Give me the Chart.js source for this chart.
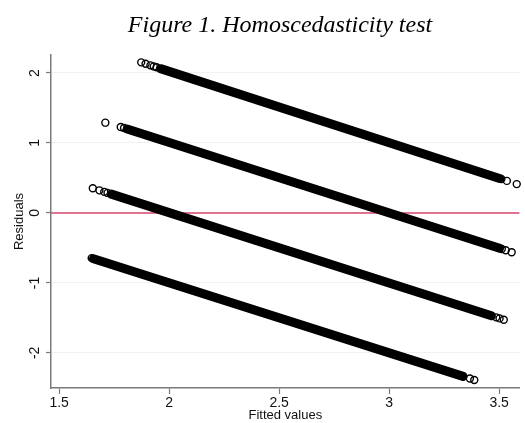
<!DOCTYPE html>
<html>
<head>
<meta charset="utf-8">
<script src="https://cdn.jsdelivr.net/npm/chart.js@4/dist/chart.umd.min.js"></script>
<style>
  body { margin: 0; background: #fff; }
  #wrap { position: relative; width: 525px; height: 423px; }
  #title {
    position: absolute; top: 12px; left: 0; width: 560px;
    text-align: center; font-family: "Liberation Serif", "Times New Roman", serif;
    font-style: italic; font-size: 24px; line-height: 24px; color: #000;
  }
</style>
</head>
<body>
<div id="wrap">
  <div id="title">Figure 1. Homoscedasticity test</div>
  <canvas id="chart" width="525" height="423"></canvas>
</div>
<script>
// axis ticks
const xTicks = [1.5, 2, 2.5, 3, 3.5];
const yTicks = [-2, -1, 0, 1, 2];

// band 1 (top stripe)
const band1LeftFitted = [1.873, 1.893, 1.915, 1.930, 1.943];
const band1LeftResid = [2.152, 2.132, 2.109, 2.094, 2.081];
const band1DenseFitted = [1.961, 3.502];
const band1DenseResid = [2.062, 0.492];
const band1RightFitted = [3.510, 3.535, 3.580];
const band1RightResid = [0.484, 0.458, 0.412];

// band 2
const band2LeftFitted = [1.710, 1.780, 1.795];
const band2LeftResid = [1.290, 1.228, 1.213];
const band2DenseFitted = [1.809, 3.502];
const band2DenseResid = [1.199, -0.506];
const band2RightFitted = [3.512, 3.530, 3.557];
const band2RightResid = [-0.516, -0.534, -0.561];

// band 3
const band3LeftFitted = [1.653, 1.683, 1.705, 1.720];
const band3LeftResid = [0.353, 0.323, 0.301, 0.286];
const band3DenseFitted = [1.737, 3.465];
const band3DenseResid = [0.269, -1.470];
const band3RightFitted = [3.487, 3.502, 3.521];
const band3RightResid = [-1.492, -1.507, -1.527];

// band 4 (bottom stripe)
const band4LeftFitted = [1.648];
const band4LeftResid = [-0.646];
const band4DenseFitted = [1.656, 3.336];
const band4DenseResid = [-0.654, -2.336];
const band4RightFitted = [3.367, 3.387];
const band4RightResid = [-2.367, -2.387];

// reference line at zero
const zeroLineFitted = [1.463, 3.593];
const zeroLineResid = [0, 0];

const toPoints = (xs, ys) => xs.map((x, i) => ({ x: x, y: ys[i] }));

function circles(xs, ys) {
    return {
        data: toPoints(xs, ys),
        showLine: false,
        pointRadius: 3.5,
        pointBorderWidth: 1.4,
        pointBorderColor: '#000',
        pointBackgroundColor: 'rgba(0,0,0,0)',
        clip: false,
        order: 1
    };
}

function stripe(xs, ys) {
    return {
        data: toPoints(xs, ys),
        showLine: true,
        borderColor: '#000',
        borderWidth: 9,
        borderCapStyle: 'round',
        pointRadius: 0,
        order: 2
    };
}

const datasets = [
    circles(band1LeftFitted, band1LeftResid),
    stripe(band1DenseFitted, band1DenseResid),
    circles(band1RightFitted, band1RightResid),
    circles(band2LeftFitted, band2LeftResid),
    stripe(band2DenseFitted, band2DenseResid),
    circles(band2RightFitted, band2RightResid),
    circles(band3LeftFitted, band3LeftResid),
    stripe(band3DenseFitted, band3DenseResid),
    circles(band3RightFitted, band3RightResid),
    circles(band4LeftFitted, band4LeftResid),
    stripe(band4DenseFitted, band4DenseResid),
    circles(band4RightFitted, band4RightResid),
    {
        data: toPoints(zeroLineFitted, zeroLineResid),
        showLine: true,
        borderColor: '#d9466b',
        borderWidth: 1.5,
        pointRadius: 0,
        order: 5
    }
];

const axisGray = '#7a7a7a';
const tickFont = { family: 'Liberation Sans, Arial, sans-serif', size: 14 };

new Chart(document.getElementById('chart'), {
    type: 'scatter',
    data: { datasets: datasets },
    options: {
        responsive: false,
        animation: false,
        layout: { padding: { top: 55, right: 0, bottom: 0, left: 0 } },
        plugins: { legend: { display: false }, tooltip: { enabled: false } },
        scales: {
            x: {
                type: 'linear',
                min: 1.463,
                max: 3.593,
                afterBuildTicks: (scale) => { scale.ticks = xTicks.map(v => ({ value: v })); },
                afterFit: (scale) => { scale.height = 35; },
                grid: { display: true, drawOnChartArea: false, drawTicks: true, tickLength: 6, tickColor: axisGray, tickWidth: 1.2 },
                border: { color: axisGray, width: 1.5 },
                ticks: { color: '#111', font: tickFont, padding: 1, maxRotation: 0, callback: (v) => String(v) },
                title: { display: true, text: 'Fitted values', color: '#111', font: { family: 'Liberation Sans, Arial, sans-serif', size: 13 }, padding: { top: 0, bottom: 0 } }
            },
            y: {
                type: 'linear',
                min: -2.502,
                max: 2.257,
                afterBuildTicks: (scale) => { scale.ticks = yTicks.map(v => ({ value: v })); },
                afterFit: (scale) => { scale.width = 51; },
                grid: { display: true, drawOnChartArea: true, color: '#edf2f4', lineWidth: 1, drawTicks: true, tickLength: 5, tickColor: axisGray, tickWidth: 1.2 },
                border: { color: axisGray, width: 1.5 },
                ticks: { color: '#111', font: tickFont, padding: 5, minRotation: 90, maxRotation: 90, crossAlign: 'center', callback: (v) => String(v) },
                title: { display: true, text: 'Residuals', color: '#111', font: { family: 'Liberation Sans, Arial, sans-serif', size: 13 }, padding: { top: 12, bottom: 0 } }
            }
        }
    }
});
</script>
</body>
</html>
